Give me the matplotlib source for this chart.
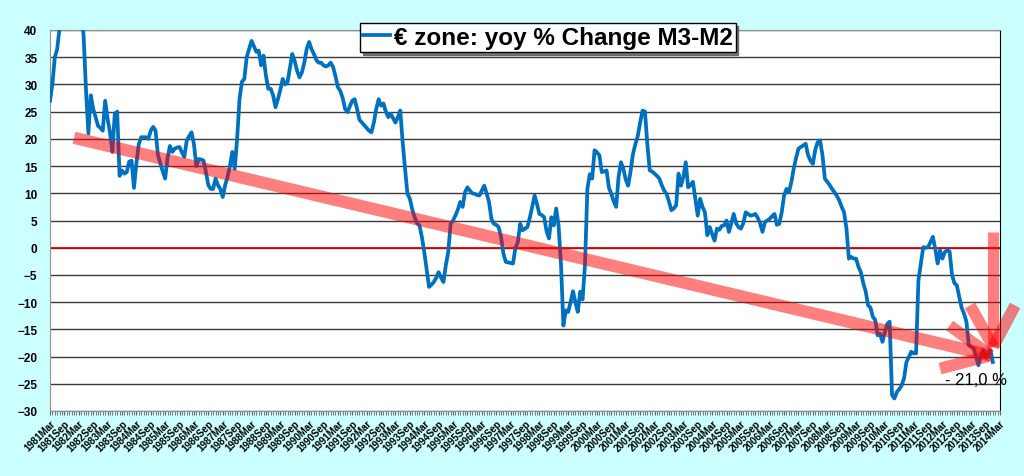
import matplotlib
matplotlib.use('Agg')
import matplotlib.pyplot as plt
import numpy as np
import pandas as pd

plt.rcParams['font.family'] = ['Liberation Sans', 'DejaVu Sans']

# monthly yoy % change of M3-M2, euro zone, from 1981Mar
y1981 = [27, 30, 35, 36.5, 40.5, 43, 45, 47, 46, 45]            # Mar-Dec
y1982 = [47, 46, 45, 43, 39, 29, 21, 28, 25.5, 24, 22.4, 22]
y1983 = [21.5, 27, 23.7, 21.2, 17.6, 24.6, 25, 13.2, 14.2, 13.6, 13.9, 15.8]
y1984 = [16, 11, 15.5, 19, 20.3, 20.3, 20.3, 20, 21.5, 22.2, 21.5, 17]
y1985 = [15.5, 14, 12.7, 16.5, 18.7, 17.6, 18.2, 18.4, 18.5, 17.5, 16.7, 19.7]
y1986 = [20.5, 21.2, 19, 15, 16.3, 16.2, 16, 13.9, 11.5, 10.8, 10.8, 12.7]
y1987 = [11.5, 10.8, 9.3, 11.5, 13, 15, 17.6, 14.5, 20, 27.3, 30.5, 31]
y1988 = [35, 36.5, 38, 37, 36, 36.2, 33.5, 35.3, 31.6, 29.2, 29.2, 28]
y1989 = [25.8, 27.3, 29, 31, 30, 30.4, 33, 35.6, 34.3, 32.5, 31.3, 32.2]
y1990 = [34, 36.5, 37.8, 36.5, 35.6, 34.5, 34, 34, 33.5, 33.3, 33.5, 34]
y1991 = [33.2, 31.5, 29.5, 28.8, 27.5, 25.5, 24.9, 26, 27, 27.3, 25.5, 23.5]
y1992 = [23, 22.5, 22, 21.5, 21.2, 23, 25.5, 27.3, 26.1, 26.5, 25, 24]
y1993 = [24.6, 23.8, 23, 24, 25.2, 19.4, 14.5, 9.9, 9, 7, 5.6, 4.5]
y1994 = [4.1, 2, -0.8, -4, -7.2, -6.8, -6.3, -5.5, -4.5, -5.5, -6.3, -3.2]
y1995 = [-0.8, 4.4, 5, 5.9, 7, 8.4, 7.5, 10.2, 11.1, 10.5, 10, 9.9]
y1996 = [9.7, 9.6, 10.5, 11.4, 10, 8.4, 5.3, 4.4, 4.2, 3.8, 2, -1.1]
y1997 = [-2.6, -2.7, -2.8, -2.9, 0, 1, 4.4, 3.2, 3.5, 3.8, 5.5, 7.5]
y1998 = [9.6, 8, 6.2, 6, 5.6, 3, 1.7, 5.6, 4.1, 7.2, 4, -3]
y1999 = [-14.3, -11.5, -11.8, -10, -8, -10, -11.8, -8.1, -9.5, -3.2, 10.8, 13.5]
y2000 = [12.7, 17.9, 17.5, 17, 13.9, 14, 14.2, 11, 9.9, 8.5, 7.5, 13]
y2001 = [15.7, 14.5, 12.5, 11.4, 14, 17.2, 19, 20.5, 23, 25.2, 25, 19]
y2002 = [14.2, 14, 13.6, 13.2, 12.7, 11.5, 10.5, 9.9, 8.5, 6.9, 7.2, 7.8]
y2003 = [13.6, 11.4, 13, 15.7, 11.1, 11.5, 12.1, 9, 5.9, 9, 7.5, 6.5]
y2004 = [2.3, 3.8, 2.5, 1.3, 3.5, 3.3, 4, 4.1, 5, 2.9, 4.5, 6.2]
y2005 = [4.5, 3.8, 3.5, 4.5, 6.5, 6.2, 5.9, 6, 6.2, 5.5, 4.5, 2.9]
y2006 = [4.7, 5, 5.3, 5.8, 6.2, 4.2, 4.4, 6.5, 9.6, 10.8, 10.2, 12]
y2007 = [14.5, 16.5, 18.2, 18.5, 18.8, 19.1, 17, 16, 15.4, 18, 19.4, 19.7]
y2008 = [17, 12.7, 12.1, 11.5, 10.8, 10.2, 9.5, 8.7, 7.5, 6.5, 3.5, -2]
y2009 = [-1.7, -2, -2, -3.5, -4.5, -6.5, -8, -10.6, -11, -12.7, -13.3, -16.1]
y2010 = [-15.8, -17.3, -15.5, -14, -13.6, -27.1, -27.7, -26.5, -26, -25.3, -24, -21]
y2011 = [-20.1, -19.1, -19.4, -19.4, -6, -3, 0.1, 0, 0.1, 1, 2, -0.2]
y2012 = [-2.9, -0.5, -2, -0.8, -0.5, -0.7, -5, -6.5, -6.9, -9, -11, -12.1]
y2013 = [-13.6, -17.9, -18.2, -18.5, -20, -21.6, -20, -18.8, -20.1, -19.5, -18.8, -21]

values = (y1981 + y1982 + y1983 + y1984 + y1985 + y1986 + y1987 + y1988 + y1989
          + y1990 + y1991 + y1992 + y1993 + y1994 + y1995 + y1996 + y1997 + y1998
          + y1999 + y2000 + y2001 + y2002 + y2003 + y2004 + y2005 + y2006 + y2007
          + y2008 + y2009 + y2010 + y2011 + y2012 + y2013)

# category axis runs to 2014Mar
months = pd.period_range('1981-03', '2014-03', freq='M')
tick_labels = [f'{p.year}{p.strftime("%b")}' for p in months[::6]]

# trend arrow and the "down" arrow (month index, value)
trend_start = (10, 20.2)
trend_end = (392, -19.8)
trend_barbs = [(375, -14.3), (371, -22.2)]
down_top = (393.2, 2.9)
down_tip = (393.2, -18.2)
down_barbs = [(383.5, -10.6), (402.3, -10.6)]
last_label = '- 21,0 %'

fig = plt.figure(figsize=(10.24, 4.77), dpi=100)
fig.patch.set_facecolor('#CCFFFF')
ax = fig.add_axes([50/1024, 1 - 412/477, 950/1024, 381/477])
ax.set_facecolor('white')

x = np.arange(len(values))
line, = ax.plot(x, values, color='#0070C0', lw=2.7, zorder=3,
                label='€ zone: yoy % Change M3-M2')

ax.set_xlim(0, len(months) - 1)
ax.set_ylim(-30, 40)
ax.set_yticks(np.arange(-30, 41, 5))
ax.yaxis.grid(True, color='#3a3a3a', lw=1.0)
ax.set_axisbelow(True)
ax.axhline(0, color='#E00000', lw=1.3, zorder=2)

ax.set_xticks(np.arange(0, len(months), 6))
ax.set_xticks(np.arange(0, len(months), 1), minor=True)
ax.set_xticklabels(tick_labels, rotation=45, ha='right', rotation_mode='anchor',
                   fontsize=7, fontweight='bold')
ax.tick_params(axis='x', which='both', length=3, color='#606060', pad=2)
ax.tick_params(axis='y', length=0, pad=9, labelsize=8.5)
for lab in ax.get_yticklabels():
    lab.set_fontweight('bold')

for s in ['left', 'bottom', 'top']:
    ax.spines[s].set_color('#909090')
ax.spines['right'].set_color('black')

# red translucent arrows
red = dict(color='red', alpha=0.5, solid_capstyle='butt', clip_on=False, zorder=4)
ax.plot([trend_start[0], trend_end[0]], [trend_start[1], trend_end[1]], lw=8.8, **red)
for bx, by in trend_barbs:
    ax.plot([bx, trend_end[0]], [by, trend_end[1]], lw=8.5, **red)
ax.plot([down_top[0], down_tip[0]], [down_top[1], down_tip[1]], lw=8, **red)
for bx, by in down_barbs:
    ax.plot([bx, down_tip[0]], [by, down_tip[1]], lw=8.5, **red)

ax.text(386, -24.2, last_label, fontsize=12, ha='center', va='center', zorder=5)

leg = fig.legend(handles=[line], loc='center', bbox_to_anchor=(548/1024, 1 - 38.5/477),
                 frameon=True, fancybox=False, shadow={'color': '#555555', 'alpha': 0.8},
                 handlelength=1.1, handletextpad=0.15, borderpad=0.12,
                 prop={'weight': 'bold', 'size': 17.5})
leg.get_frame().set_edgecolor('black')
leg.get_frame().set_linewidth(1.0)

fig.savefig('out.png', dpi=100, facecolor=fig.get_facecolor())
